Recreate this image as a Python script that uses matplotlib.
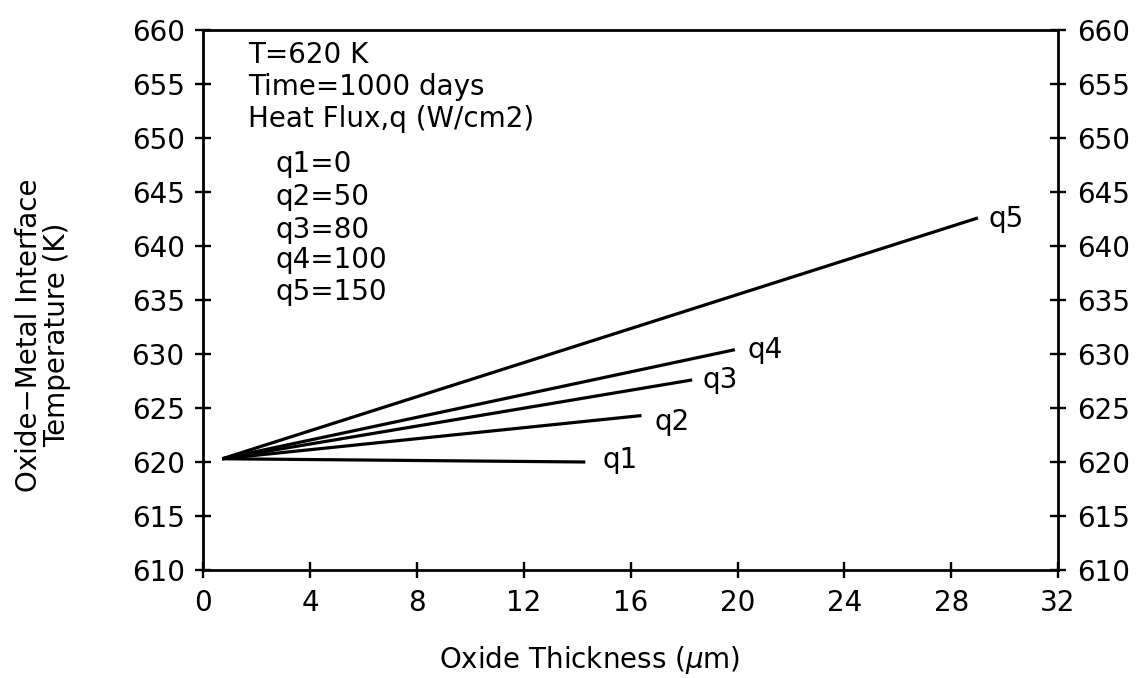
import matplotlib
matplotlib.use("Agg")
import matplotlib.pyplot as plt

# Oxide-metal interface temperature vs oxide thickness for five heat fluxes
series_names = ["q1", "q2", "q3", "q4", "q5"]
heat_flux = [0, 50, 80, 100, 150]
thickness_start = [0.7, 0.7, 0.7, 0.7, 0.7]
thickness_end = [14.3, 16.4, 18.3, 19.9, 29.0]
temp_start = [620.3, 620.3, 620.3, 620.3, 620.3]
temp_end = [620.0, 624.3, 627.6, 630.4, 642.6]

label_x = [14.96, 16.9, 18.7, 20.39, 29.38]
label_y = [619.45, 622.96, 626.85, 629.6, 641.76]

x_ticks = list(range(0, 33, 4))
y_ticks = list(range(610, 661, 5))

plt.rcParams["font.family"] = ["DejaVu Sans"]
fs = 20

fig = plt.figure(figsize=(11.38, 6.78), dpi=100)
ax = fig.add_axes([203.5 / 1138, 1 - 570 / 678, (1058 - 203.5) / 1138, 540 / 678])

for xs, xe, ys, ye in zip(thickness_start, thickness_end, temp_start, temp_end):
    ax.plot([xs, xe], [ys, ye], color="black", lw=2.3, solid_capstyle="butt")

for name, lx, ly in zip(series_names, label_x, label_y):
    ax.text(lx, ly, name, fontsize=fs, va="baseline", ha="left")

ax.set_xlim(0, 32)
ax.set_ylim(610, 660)
ax.set_xticks(x_ticks)
ax.set_yticks(y_ticks)
ax.tick_params(axis="both", direction="inout", length=11, width=1.7,
               labelsize=fs, pad=8)
ax.tick_params(axis="y", right=True, labelright=True)
for sp in ax.spines.values():
    sp.set_linewidth(2.0)

header = ["T=620 K", "Time=1000 days", "Heat Flux,q (W/cm2)"]
header_y = [656.95, 654.0, 651.0]
for line, hy in zip(header, header_y):
    ax.text(1.67, hy, line, fontsize=fs, va="baseline", ha="left")
legend_y = [646.85, 643.8, 640.75, 637.95, 635.0]
for name, q, ly in zip(series_names, heat_flux, legend_y):
    ax.text(2.68, ly, f"{name}={q}", fontsize=fs, va="baseline", ha="left")

fig.text(590 / 1138, 1 - 660 / 678, "Oxide Thickness ($\\mu$m)", fontsize=fs,
         ha="center", va="center")
fig.text(43 / 1138, 1 - 335 / 678, "Oxide\u2212Metal Interface\nTemperature (K)",
         fontsize=fs, ha="center", va="center", rotation=90,
         multialignment="center", linespacing=1.0)

fig.savefig("out.png", dpi=100, facecolor="white")
